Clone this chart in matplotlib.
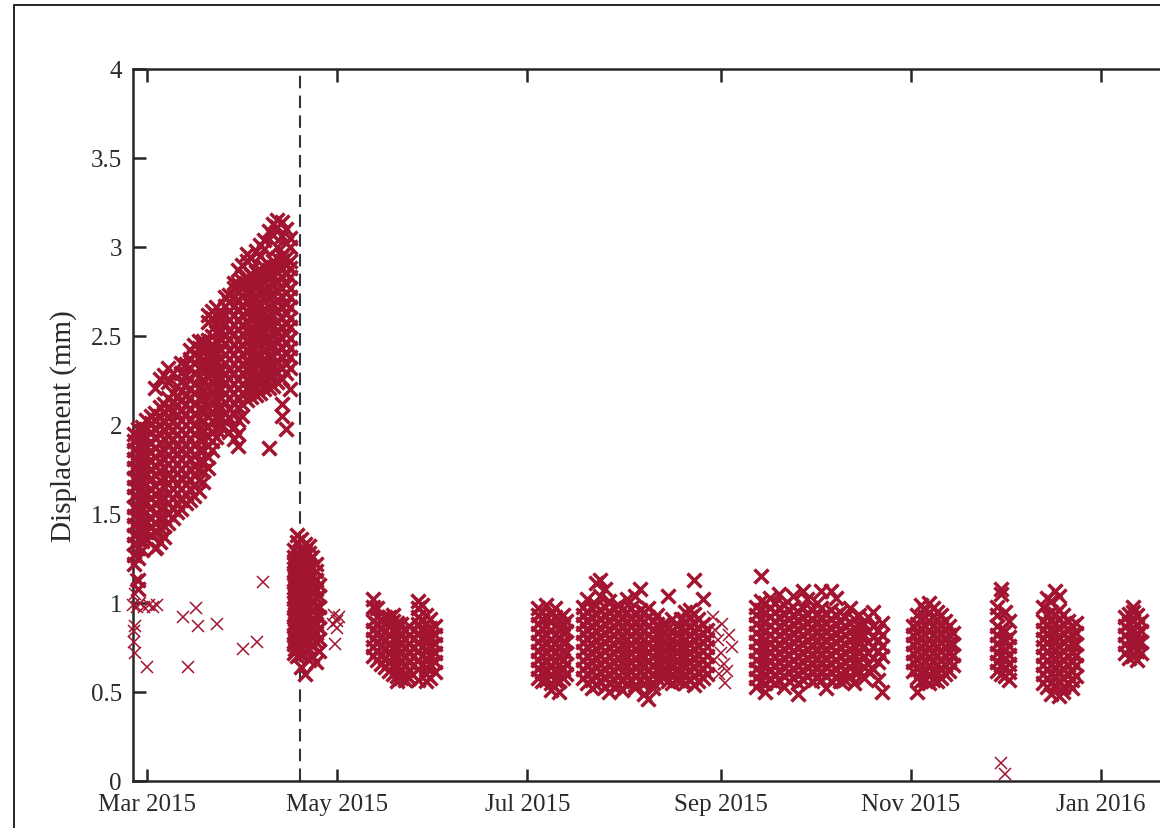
#!/usr/bin/env python3
"""Displacement time series, MATLAB-style scatter of x markers."""

import datetime as dt

import matplotlib

matplotlib.use("Agg")
import matplotlib.dates as mdates
import matplotlib.pyplot as plt
from matplotlib.patches import Rectangle

RED = "#A2142F"
INK = "#262626"

START = dt.date(2015, 3, 1)
EVENT_DAY = 49  # dashed line, days after START
XLIM_DAYS = (-4.5, 330)

TICK_DATES = [dt.date(2015, 3, 1), dt.date(2015, 5, 1), dt.date(2015, 7, 1),
              dt.date(2015, 9, 1), dt.date(2015, 11, 1), dt.date(2016, 1, 1)]
TICK_LABELS = ["Mar 2015", "May 2015", "Jul 2015", "Sep 2015", "Nov 2015", "Jan 2016"]
Y_TICKS = [0, 0.5, 1, 1.5, 2, 2.5, 3, 3.5, 4]
Y_LABELS = ["0", "0.5", "1", "1.5", "2", "2.5", "3", "3.5", "4"]

# columns of readings: (days after START, [displacement in 1/100 mm])
mar_apr = [
    (-4.2, [122, 127, 133, 138, 144, 149, 154, 160, 165, 170, 176, 181, 186, 191, 195]),
    (-3.0, [125, 131, 136, 142, 147, 153, 158, 163, 169, 174, 179, 184, 189, 194, 198, 113, 108]),
    (-1.6, [130, 135, 141, 146, 152, 157, 162, 168, 173, 178, 183, 189, 194, 199]),
    (-0.2, [136, 140, 146, 151, 157, 162, 167, 172, 178, 183, 188, 193, 198, 203]),
    (1.2, [138, 143, 148, 154, 159, 164, 170, 175, 180, 185, 190, 196, 201, 205]),
    (2.6, [140, 145, 150, 156, 161, 166, 172, 177, 182, 187, 193, 198, 203, 207, 221, 131]),
    (4.0, [142, 147, 153, 158, 163, 169, 174, 179, 185, 190, 195, 200, 205, 210, 226, 134]),
    (5.4, [143, 148, 154, 159, 165, 170, 176, 181, 186, 192, 197, 202, 207, 212, 228, 137]),
    (6.8, [145, 150, 156, 161, 167, 172, 178, 183, 188, 194, 199, 204, 209, 215, 224, 232]),
    (8.2, [148, 153, 159, 164, 170, 175, 181, 186, 192, 197, 202, 208, 213, 218, 229]),
    (9.6, [151, 156, 162, 167, 173, 178, 184, 189, 195, 200, 206, 211, 216, 222]),
    (11.0, [153, 158, 164, 170, 175, 181, 186, 192, 197, 203, 208, 214, 219, 224, 229, 235]),
    (12.4, [156, 161, 167, 172, 178, 184, 189, 195, 200, 206, 212, 217, 223, 228, 234]),
    (13.8, [158, 164, 169, 175, 181, 186, 192, 198, 203, 209, 215, 220, 226, 232, 237, 242]),
    (15.2, [160, 166, 172, 177, 183, 189, 195, 200, 206, 212, 218, 223, 229, 235, 240, 245]),
    (16.6, [163, 169, 175, 180, 186, 192, 198, 204, 209, 215, 221, 227, 232, 238, 243, 247]),
    (18.0, [168, 174, 180, 186, 192, 197, 203, 209, 215, 220, 226, 232, 237, 242, 247]),
    (19.4, [176, 182, 188, 193, 199, 205, 210, 216, 222, 227, 233, 238, 243, 248, 258, 262]),
    (20.8, [186, 191, 196, 202, 207, 213, 218, 224, 229, 234, 240, 245, 250, 260, 264]),
    (22.2, [193, 198, 204, 209, 214, 220, 225, 231, 236, 241, 247, 252, 256, 262, 266]),
    (23.6, [199, 204, 210, 215, 220, 226, 231, 237, 242, 248, 253, 258, 262]),
    (25.0, [202, 207, 213, 218, 224, 229, 235, 240, 246, 251, 257, 262, 267, 272]),
    (26.4, [204, 209, 215, 220, 226, 231, 237, 242, 248, 253, 259, 264, 269, 273, 196]),
    (27.8, [207, 212, 218, 223, 229, 234, 240, 245, 251, 256, 262, 267, 272, 277, 280, 199, 192]),
    (29.2, [210, 215, 221, 226, 232, 237, 243, 248, 254, 259, 265, 270, 275, 279, 287, 203, 195, 188]),
    (30.6, [212, 218, 223, 229, 234, 240, 245, 251, 256, 262, 267, 273, 277, 281, 290, 205]),
    (32.0, [214, 220, 225, 231, 236, 242, 247, 253, 258, 264, 269, 275, 279, 283, 292, 296]),
    (33.4, [216, 221, 227, 232, 238, 243, 249, 254, 260, 265, 271, 276, 280, 284, 294]),
    (34.8, [217, 222, 228, 234, 239, 245, 250, 256, 261, 267, 272, 278, 282, 286, 298]),
    (36.2, [218, 224, 229, 235, 240, 246, 252, 257, 263, 268, 274, 279, 284, 287, 301, 295]),
    (37.6, [220, 225, 231, 237, 242, 248, 253, 259, 264, 270, 276, 281, 285, 289, 304, 299]),
    (39.0, [221, 227, 232, 238, 244, 249, 255, 260, 266, 272, 277, 283, 287, 290, 309, 187]),
    (40.4, [222, 228, 234, 239, 245, 251, 256, 262, 268, 273, 279, 284, 289, 292, 313, 307]),
    (41.8, [224, 230, 236, 241, 247, 253, 258, 264, 270, 275, 281, 286, 290, 294, 315, 311, 300]),
    (43.2, [226, 232, 238, 243, 249, 255, 260, 266, 272, 277, 283, 288, 292, 295, 314, 306, 212, 205]),
    (44.6, [229, 234, 240, 246, 251, 257, 263, 268, 274, 279, 285, 290, 294, 310, 302, 198]),
    (45.8, [232, 238, 243, 249, 255, 260, 266, 272, 277, 283, 288, 292, 305, 300, 220]),
]

apr_burst = [
    (47.0, [72, 77, 82, 87, 92, 97, 102, 107, 112, 117, 122, 126, 130]),
    (47.6, [74, 79, 84, 89, 94, 99, 104, 109, 114, 119, 124]),
    (48.2, [70, 75, 80, 85, 90, 95, 100, 105, 110, 115, 120, 125, 134, 138]),
    (49.4, [71, 76, 81, 86, 91, 96, 101, 106, 111, 116, 121, 126, 131, 136, 64]),
    (50.6, [73, 78, 83, 88, 93, 98, 103, 108, 113, 118, 123, 129, 133, 60]),
    (51.8, [74, 79, 84, 89, 94, 99, 104, 109, 114, 119, 124, 128, 132, 68]),
    (53.0, [76, 81, 86, 91, 96, 101, 106, 111, 116, 120, 126, 70]),
    (54.2, [78, 83, 88, 93, 98, 103, 108, 113, 118, 122, 67]),
    (55.2, [80, 86, 92, 98, 104, 110, 73]),
]

may_a = [
    (72.3, [70, 75, 80, 85, 90, 98, 102]),
    (73.6, [68, 73, 78, 83, 88, 92, 97]),
    (74.9, [66, 71, 76, 81, 86, 91]),
    (76.2, [64, 69, 74, 79, 84, 89, 92]),
    (77.5, [62, 67, 72, 77, 82, 87, 92]),
    (78.8, [60, 65, 70, 75, 80, 85, 90, 93]),
    (80.1, [59, 64, 69, 74, 79, 84, 89, 56]),
    (81.4, [58, 63, 68, 73, 78, 83, 88]),
    (82.7, [60, 65, 70, 75, 80, 85, 57]),
    (84.0, [62, 67, 72, 77, 82, 87, 58]),
]

may_b = [
    (86.9, [63, 68, 73, 78, 83, 88, 92, 97, 101, 57]),
    (88.2, [65, 70, 75, 80, 85, 90, 99]),
    (89.5, [64, 69, 74, 79, 84, 89, 93, 60, 56]),
    (90.8, [66, 71, 76, 81, 86, 91, 58]),
    (92.2, [67, 72, 77, 82, 87, 61]),
]

jul = [
    (125.5, [58, 63, 68, 73, 78, 83, 88, 93, 97]),
    (126.8, [56, 61, 66, 71, 76, 81, 86, 91, 95]),
    (128.1, [57, 62, 67, 72, 77, 82, 87, 92, 99]),
    (129.4, [55, 60, 65, 70, 75, 80, 85, 90, 94, 51]),
    (130.7, [57, 62, 67, 72, 77, 82, 87, 92, 97]),
    (132.0, [56, 61, 66, 71, 76, 81, 86, 91, 50]),
    (133.3, [58, 63, 68, 73, 78, 83, 88, 93]),
    (134.5, [60, 66, 72, 78, 84, 90]),
]

jul_aug = [
    (139.8, [58, 63, 68, 73, 78, 83, 88, 93, 98]),
    (141.2, [55, 60, 65, 70, 75, 80, 85, 90, 95, 102]),
    (142.6, [57, 62, 67, 72, 77, 82, 87, 92, 97, 52]),
    (144.0, [54, 59, 64, 69, 74, 79, 84, 89, 94, 99, 111]),
    (145.4, [56, 61, 66, 71, 76, 81, 86, 91, 96, 113, 104]),
    (146.8, [53, 58, 63, 68, 73, 78, 83, 88, 93, 98, 108]),
    (148.2, [55, 60, 65, 70, 75, 80, 85, 90, 95, 101, 50]),
    (149.6, [57, 62, 67, 72, 77, 82, 87, 92, 97, 53]),
    (151.0, [54, 59, 64, 69, 74, 79, 84, 89, 94, 99]),
    (152.4, [56, 61, 66, 71, 76, 81, 86, 91, 96, 51]),
    (153.8, [55, 60, 65, 70, 75, 80, 85, 90, 95, 102]),
    (155.2, [57, 62, 67, 72, 77, 82, 87, 92, 97]),
    (156.6, [54, 59, 64, 69, 74, 79, 84, 89, 94, 104, 52]),
    (158.0, [56, 61, 66, 71, 76, 81, 86, 91, 96, 108]),
    (159.4, [55, 60, 65, 70, 75, 80, 85, 90, 95, 49]),
    (160.8, [57, 62, 67, 72, 77, 82, 87, 92, 97, 46]),
    (162.2, [55, 60, 65, 70, 75, 80, 85, 90, 52]),
    (163.6, [58, 63, 68, 73, 78, 83, 88, 93]),
]

aug = [
    (165.6, [58, 63, 68, 73, 78, 83, 88]),
    (167.0, [56, 61, 66, 71, 76, 81, 86, 104]),
    (168.4, [55, 60, 65, 70, 75, 80, 85, 91]),
    (169.8, [57, 62, 67, 72, 77, 82, 87]),
    (171.2, [56, 61, 66, 71, 76, 81, 86, 91]),
    (172.6, [55, 60, 65, 70, 75, 80, 85, 90, 95]),
    (174.0, [57, 62, 67, 72, 77, 82, 87, 92, 96]),
    (175.4, [54, 59, 64, 69, 74, 79, 84, 89, 94, 113]),
    (176.8, [56, 61, 66, 71, 76, 81, 86, 91]),
    (178.2, [58, 63, 68, 73, 78, 83, 88, 102]),
    (179.6, [60, 65, 70, 75, 80, 85]),
]

sep_oct = [
    (195.3, [58, 63, 68, 73, 78, 83, 88, 93, 98, 53]),
    (196.8, [56, 61, 66, 71, 76, 81, 86, 91, 96, 101, 115]),
    (198.3, [55, 60, 65, 70, 75, 80, 85, 90, 95, 100, 50]),
    (199.8, [57, 62, 67, 72, 77, 82, 87, 92, 97, 103]),
    (201.3, [55, 60, 65, 70, 75, 80, 85, 90, 95, 100]),
    (202.8, [57, 62, 67, 72, 77, 82, 87, 92, 97, 105]),
    (204.3, [59, 64, 69, 74, 79, 84, 89, 94, 99, 53]),
    (205.8, [56, 61, 66, 71, 76, 81, 86, 91, 96]),
    (207.3, [58, 63, 68, 73, 78, 83, 88, 93, 98, 104]),
    (208.8, [55, 60, 65, 70, 75, 80, 85, 90, 95, 49]),
    (210.3, [57, 62, 67, 72, 77, 82, 87, 92, 97, 107]),
    (211.8, [59, 64, 69, 74, 79, 84, 89, 94, 102]),
    (213.3, [56, 61, 66, 71, 76, 81, 86, 91, 96]),
    (214.8, [58, 63, 68, 73, 78, 83, 88, 93, 100]),
    (216.3, [57, 62, 67, 72, 77, 82, 87, 92, 97, 107]),
    (217.8, [59, 64, 69, 74, 79, 84, 89, 94, 52]),
    (219.3, [56, 61, 66, 71, 76, 81, 86, 91, 96, 107]),
    (220.8, [58, 63, 68, 73, 78, 83, 88, 93, 103]),
    (222.3, [60, 65, 70, 75, 80, 85, 90, 95, 56]),
    (223.8, [57, 62, 67, 72, 77, 82, 87, 92]),
    (225.3, [59, 64, 69, 74, 79, 84, 89, 97]),
    (226.8, [61, 66, 71, 76, 81, 86, 91, 55]),
    (228.3, [62, 67, 72, 77, 82, 87, 93]),
    (229.8, [64, 70, 76, 82, 88, 58]),
    (231.3, [66, 72, 78, 84, 92, 62]),
    (232.8, [63, 69, 75, 81, 87, 95]),
    (234.3, [67, 73, 79, 85, 57]),
    (235.8, [70, 76, 82, 50, 89]),
]

nov = [
    (245.5, [62, 67, 72, 77, 82, 87]),
    (246.8, [58, 63, 68, 73, 78, 83, 88, 93, 50]),
    (248.1, [56, 61, 66, 71, 76, 81, 86, 91, 99]),
    (249.4, [57, 62, 67, 72, 77, 82, 87, 92, 96]),
    (250.7, [55, 60, 65, 70, 75, 80, 85, 90, 100]),
    (252.0, [57, 62, 67, 72, 77, 82, 87, 92, 97]),
    (253.3, [56, 61, 66, 71, 76, 81, 86, 91, 95]),
    (254.6, [58, 63, 68, 73, 78, 83, 88, 93]),
    (255.9, [60, 65, 70, 75, 80, 85, 90]),
    (257.2, [62, 67, 72, 77, 82, 87]),
    (258.5, [65, 71, 77, 83]),
]

dec_a = [
    (272.6, [62, 67, 72, 77, 82, 87, 93, 98]),
    (273.9, [60, 65, 70, 75, 80, 85, 105, 108]),
    (275.2, [59, 64, 69, 74, 79, 84, 95]),
    (276.5, [61, 66, 71, 76, 81, 57, 90]),
]

dec_b = [
    (287.4, [55, 60, 65, 70, 75, 80, 85, 90, 98]),
    (288.7, [53, 58, 63, 68, 73, 78, 83, 88, 93, 103]),
    (290.0, [55, 60, 65, 70, 75, 80, 85, 90, 95, 101, 49]),
    (291.3, [54, 59, 64, 69, 74, 79, 84, 89, 94, 107]),
    (292.6, [56, 61, 66, 71, 76, 81, 86, 91, 96, 104, 48]),
    (293.9, [53, 58, 63, 68, 73, 78, 83, 88, 93, 50]),
    (295.2, [55, 60, 65, 70, 75, 80, 85, 90]),
    (296.5, [57, 62, 67, 72, 77, 82, 87, 52]),
    (297.8, [59, 65, 71, 77, 83, 89]),
]

jan = [
    (313.5, [72, 77, 82, 87, 92]),
    (314.8, [69, 74, 79, 84, 89, 94]),
    (316.1, [70, 75, 80, 85, 90, 95, 98]),
    (317.4, [68, 73, 78, 83, 88, 93]),
    (318.7, [72, 78, 84, 90]),
]

# isolated readings: (days after START, displacement in mm)
stray = [
    (-4.4, 0.99), (-3.3, 0.98), (-2.2, 1.00), (-1.0, 0.98), (0.5, 0.99), (2.0, 0.98),
    (3.2, 0.99), (-4.3, 0.84), (-3.8, 0.87), (-3.9, 0.72), (-4.2, 0.78), (0.0, 0.64),
    (13.2, 0.64), (11.5, 0.92), (15.8, 0.97), (16.2, 0.87), (22.5, 0.88), (30.8, 0.74),
    (35.3, 0.78), (37.2, 1.12), (-3.4, 1.13), (-4.0, 1.05), (4.3, 1.34), (3.4, 1.31),
    (5.0, 1.37), (60.0, 0.93), (61.0, 0.90), (59.6, 0.88), (60.8, 0.86), (60.3, 0.77),
    (61.6, 0.92), (181.5, 0.92), (181.8, 0.68), (182.3, 0.85), (183.0, 0.79),
    (183.5, 0.60), (184.0, 0.72), (184.5, 0.88), (185.0, 0.66), (185.5, 0.55),
    (186.0, 0.62), (186.5, 0.82), (187.5, 0.75), (273.9, 0.10), (275.2, 0.04),
]


def to_points(columns):
    xs, ys = [], []
    for day, values in columns:
        for v in values:
            xs.append(day)
            ys.append(v / 100)
    return xs, ys


def main() -> None:
    plt.rcParams["font.family"] = ["Liberation Serif", "DejaVu Serif"]
    fig = plt.figure(figsize=(11.6, 8.29), dpi=100)
    ax = fig.add_axes([0.1147, 0.0567, 0.8991, 0.8589])

    base = mdates.date2num(START)
    days, disp = [], []
    for cols in [mar_apr, apr_burst, may_a, may_b, jul, jul_aug, aug, sep_oct, nov, dec_a, dec_b, jan]:
        xs, ys = to_points(cols)
        days += xs
        disp += ys

    # dense campaigns: heavier strokes so the clouds read as solid, like the original
    ax.plot([base + d for d in days], disp, "x", ls="none", color=RED,
            ms=9.5, mew=2.5, clip_on=False, zorder=3)
    ax.plot([base + d for d, _ in stray], [v for _, v in stray], "x", ls="none",
            color=RED, ms=8.5, mew=1.1, clip_on=False, zorder=3)
    ax.axvline(base + EVENT_DAY, color="#333333", lw=1.5, dashes=(6, 3.5), zorder=2)

    ax.set_xlim(base + XLIM_DAYS[0], base + XLIM_DAYS[1])
    ax.set_ylim(0, 4)
    ax.set_xticks([mdates.date2num(d) for d in TICK_DATES], TICK_LABELS)
    ax.set_yticks(Y_TICKS, Y_LABELS)
    ax.tick_params(direction="in", top=True, right=True, length=9, width=1.8,
                   color=INK, labelcolor="#2a2a2a", labelsize=18)
    ax.tick_params(axis="x", pad=9)
    ax.tick_params(axis="y", pad=8)
    for spine in ax.spines.values():
        spine.set_linewidth(1.8)
        spine.set_color(INK)
    ax.set_ylabel("Displacement (mm)", fontsize=21, color="#2a2a2a", labelpad=10)

    # outer frame of the original figure (cropped on right and bottom)
    fig.add_artist(Rectangle((14 / 1160, -0.1), 1.2, 1.0928, transform=fig.transFigure,
                             fill=False, lw=1.2, ec="black"))

    fig.savefig("out.png", dpi=100)
    plt.close(fig)


if __name__ == "__main__":
    main()
